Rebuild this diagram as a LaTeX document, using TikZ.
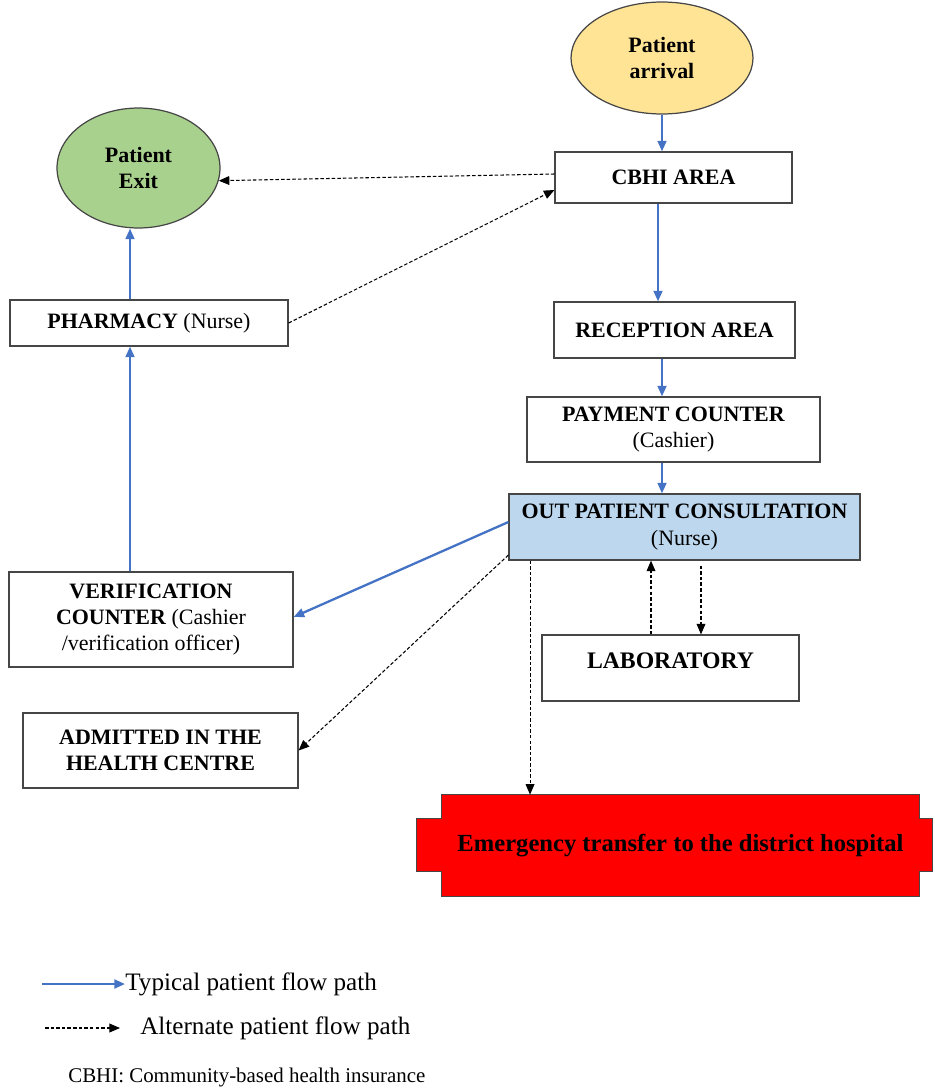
\documentclass[tikz,border=0pt]{standalone}
\usepackage{fontspec}
\setmainfont{Liberation Serif}
\usetikzlibrary{arrows.meta,positioning,shapes.geometric,backgrounds}
\definecolor{azulFlujo}{RGB}{68,114,196}
\definecolor{amarilloLlegada}{RGB}{255,228,150}
\definecolor{verdeSalida}{RGB}{169,209,142}
\definecolor{celesteOPC}{RGB}{189,215,238}
\definecolor{rojoUrg}{RGB}{255,0,0}
\definecolor{borde}{RGB}{70,70,70}

\begin{document}
\begin{tikzpicture}[
  x=0.02cm, y=-0.02cm,
  every node/.style = {align=center, font=\fontsize{12.5}{15}\selectfont},
  box/.style   = {rectangle, draw=borde, line width=0.7pt, inner sep=2pt},
  oval/.style  = {ellipse, draw=borde, line width=0.7pt, inner sep=0pt},
  flow/.style  = {-{Triangle[length=6pt,width=5pt]}, line width=1.3pt, color=azulFlujo},
  alt/.style   = {-{Triangle[length=6pt,width=5pt]}, line width=0.6pt, black,
                  dash pattern=on 2pt off 1.2pt},
  leg/.style   = {anchor=west, inner sep=0pt, font=\fontsize{14.3}{16}\selectfont},
]
\useasboundingbox (0,0) rectangle (935,1088);

% ── Nodos ────────────────────────────────────────────────────
\node[oval, fill=amarilloLlegada, minimum width=3.64cm, minimum height=2.24cm]
      (arrival) at (662,58)    {\textbf{Patient}\\\textbf{arrival}};
\node[oval, fill=verdeSalida, minimum width=3.26cm, minimum height=2.4cm]
      (exit)    at (138.5,168) {\textbf{Patient}\\\textbf{Exit}};
\node[box, minimum width=4.74cm, minimum height=1.02cm]
      (cbhi)    at (673.5,177.5) {\textbf{CBHI AREA}};
\node[box, minimum width=5.56cm, minimum height=0.92cm]
      (pharm)   at (149,323)   {\textbf{PHARMACY} (Nurse)};
\node[box, minimum width=4.82cm, minimum height=1.12cm]
      (recep)   at (674.5,330) {\textbf{RECEPTION AREA}};
\node[box, minimum width=5.86cm, minimum height=1.3cm]
      (pay)     at (673.5,429.5) {\textbf{PAYMENT COUNTER}\\(Cashier)};
\node[box, fill=celesteOPC, minimum width=7.02cm, minimum height=1.32cm]
      (opc)     at (684.5,527) {\textbf{OUT PATIENT CONSULTATION}\\(Nurse)};
\node[box, minimum width=5.68cm, minimum height=1.9cm]
      (verif)   at (151,619.5) {\textbf{VERIFICATION}\\\textbf{COUNTER} (Cashier\\/verification officer)};
\node[box, minimum width=5.14cm, minimum height=1.32cm, text depth=0.3cm,
      font=\fontsize{13.5}{15}\selectfont]
      (lab)     at (670.5,668) {\textbf{LABORATORY}};
\node[box, minimum width=5.5cm, minimum height=1.5cm]
      (admit)   at (160.5,750.5) {\textbf{ADMITTED IN THE}\\\textbf{HEALTH CENTRE}};
\node[rectangle, inner sep=2pt, minimum width=9.54cm, minimum height=2.02cm,
      font=\fontsize{14}{16}\selectfont]
      (emg)     at (680.5,845.5) {\textbf{Emergency transfer to the district hospital}};
\begin{scope}[on background layer]
  \filldraw[fill=rojoUrg, draw=borde, line width=0.7pt]
    (emg.north west) -- (emg.north east) -- ([yshift=-0.48cm]emg.north east)
    -- ++(0.26cm,0) -- ([xshift=0.26cm,yshift=0.5cm]emg.south east)
    -- ([yshift=0.5cm]emg.south east) -- (emg.south east) -- (emg.south west)
    -- ([yshift=0.5cm]emg.south west) -- ++(-0.5cm,0)
    -- ([xshift=-0.5cm,yshift=-0.48cm]emg.north west)
    -- ([yshift=-0.48cm]emg.north west) -- cycle;
\end{scope}

% ── Flujo típico ─────────────────────────────────────────────
\draw[flow] (arrival.south) -- (arrival.south |- cbhi.north);
\draw[flow] ([xshift=-0.31cm]cbhi.south) -- ([xshift=-0.31cm]cbhi.south |- recep.north);
\draw[flow] ([xshift=-0.25cm]recep.south) -- ([xshift=-0.25cm]recep.south |- pay.north);
\draw[flow] ([xshift=-0.23cm]pay.south) -- ([xshift=-0.23cm]pay.south |- opc.north);
\draw[flow] ([yshift=0.1cm]opc.west) -- ([yshift=0.05cm]verif.east);
\draw[flow] ([xshift=-0.42cm]verif.north) -- ([xshift=-0.42cm]verif.north |- pharm.south);
\draw[flow] ([xshift=-0.38cm]pharm.north) -- ([xshift=-0.38cm]pharm.north |- exit.south);

% ── Flujo alterno ────────────────────────────────────────────
\draw[alt] ([yshift=0.07cm]cbhi.west) -- (exit.-9);
\draw[alt] (pharm.east) -- ([yshift=-0.25cm]cbhi.west);
\draw[alt] ([yshift=-0.56cm]opc.west) -- (admit.east);
\draw[alt] ([xshift=-3.09cm]opc.south) -- ([xshift=-3.09cm]opc.south |- emg.north);
\draw[alt] ([xshift=-0.39cm]lab.north) -- ([xshift=-0.39cm]lab.north |- opc.south);
\draw[alt] ([xshift=0.33cm,yshift=-0.1cm]opc.south) -- ([xshift=0.33cm]opc.south |- lab.north);

% ── Leyenda ──────────────────────────────────────────────────
\coordinate (legA) at (42,984);
\node[leg] (typ) at (125,984) {Typical patient flow path};
\draw[flow] (legA) -- (typ.west);
\coordinate (legB) at (45,1028);
\coordinate (legC) at (120,1028);
\node[leg] (altn) at (140,1028) {Alternate patient flow path};
\draw[alt] (legB) -- (legC);
\node[leg, font=\fontsize{11.9}{14}\selectfont] (abbr) at (68,1077) {CBHI: Community-based health insurance};

\end{tikzpicture}
\end{document}
